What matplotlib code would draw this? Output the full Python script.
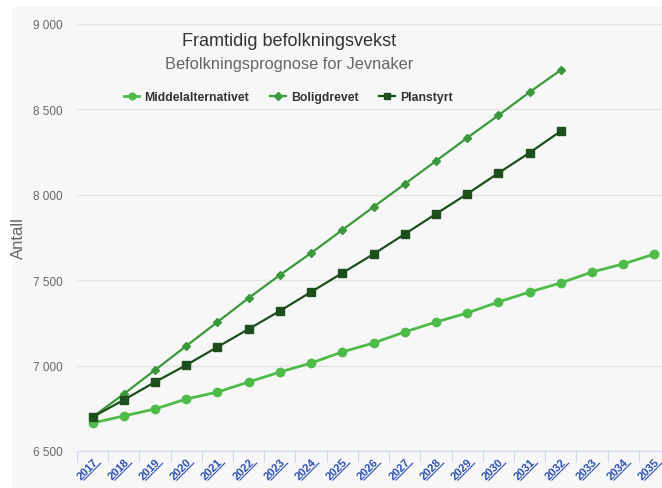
import matplotlib.pyplot as plt
import matplotlib.patches as mpatches
from matplotlib.ticker import FuncFormatter, FixedLocator
import numpy as np

plt.rcParams["font.family"] = ["Liberation Sans", "DejaVu Sans"]

# Data
years = [str(y) for y in range(2017, 2036)]
middel = [6664, 6705, 6746, 6804, 6845, 6904, 6962, 7015, 7080, 7132,
          7197, 7255, 7308, 7372, 7431, 7484, 7548, 7595, 7653]
boligdrevet = [6699, 6834, 6974, 7115, 7255, 7396, 7530, 7659, 7794, 7929,
               8063, 8198, 8333, 8465, 8601, 8730]
planstyrt = [6699, 6799, 6904, 7003, 7109, 7214, 7320, 7431, 7542, 7653,
             7770, 7888, 8005, 8127, 8246, 8373]

W, H = 662, 489
fig = plt.figure(figsize=(W / 100, H / 100), dpi=100)
fig.patch.set_facecolor("white")
bg = mpatches.Rectangle((12 / W, 0), 1, 1 - 8 / H, transform=fig.transFigure,
                        facecolor="#f7f7f7", edgecolor="none", zorder=-5)
fig.patches.append(bg)

ax = fig.add_axes([77 / W, 1 - 452 / H, (670 - 77) / W, (452 - 25) / H])
ax.set_facecolor("#f7f7f7")

x = np.arange(len(years))
ax.plot(x, middel, color="#4cbb47", lw=2, marker="o", ms=6, label="Middelalternativet", zorder=3)
ax.plot(x[:len(boligdrevet)], boligdrevet, color="#3a993a", lw=1.6, marker="D", ms=4.5,
        label="Boligdrevet", zorder=3)
ax.plot(x[:len(planstyrt)], planstyrt, color="#1d4f1d", lw=1.6, marker="s", ms=6.2,
        label="Planstyrt", zorder=3)

ax.set_xlim(-0.5, len(years) - 0.5)
ax.set_ylim(6500, 9000)
ax.set_yticks([6500, 7000, 7500, 8000, 8500, 9000])
ax.yaxis.set_major_formatter(FuncFormatter(lambda v, p: f"{int(v):,}".replace(",", " ")))
ax.grid(axis="y", color="#e3e3e3", lw=1)
ax.set_axisbelow(True)
for s in ["left", "right", "top"]:
    ax.spines[s].set_visible(False)
ax.spines["bottom"].set_color("#ccd6eb")
ax.tick_params(axis="y", length=0, labelsize=8.5, labelcolor="#666666", pad=10)

# category ticks between the years, labels centred on the years
ax.xaxis.set_major_locator(FixedLocator(x - 0.5))
ax.xaxis.set_minor_locator(FixedLocator(x))
ax.set_xticklabels([])
ax.set_xticklabels(["".join(c + "\u0332" for c in y) for y in years], minor=True)
ax.tick_params(axis="x", which="major", length=8, color="#ccd6eb")
ax.tick_params(axis="x", which="minor", length=0, pad=4)
for lab in ax.get_xticklabels(minor=True):
    lab.set_rotation(45)
    lab.set_ha("right")
    lab.set_va("top")
    lab.set_rotation_mode("anchor")
    lab.set_fontsize(8)
    lab.set_fontweight("bold")
    lab.set_color("#2a4fb0")

ax.set_ylabel("Antall", fontsize=12, color="#666666")
ax.yaxis.set_label_coords(-51 / 593, 0.5)

fig.text(289 / W, 1 - 42 / H, "Framtidig befolkningsvekst", ha="center", va="center",
         fontsize=13, color="#333333")
fig.text(289 / W, 1 - 65 / H, "Befolkningsprognose for Jevnaker", ha="center", va="center",
         fontsize=11.8, color="#666666")

leg = fig.legend(loc="center", bbox_to_anchor=(288 / W, 1 - 98 / H), ncol=3, frameon=False,
                 fontsize=8.8, handlelength=1.3, columnspacing=1.7, handletextpad=0.4,
                 markerscale=0.8)
for t in leg.get_texts():
    t.set_fontweight("bold")
    t.set_color("#333333")

fig.savefig("out.png", dpi=100)
